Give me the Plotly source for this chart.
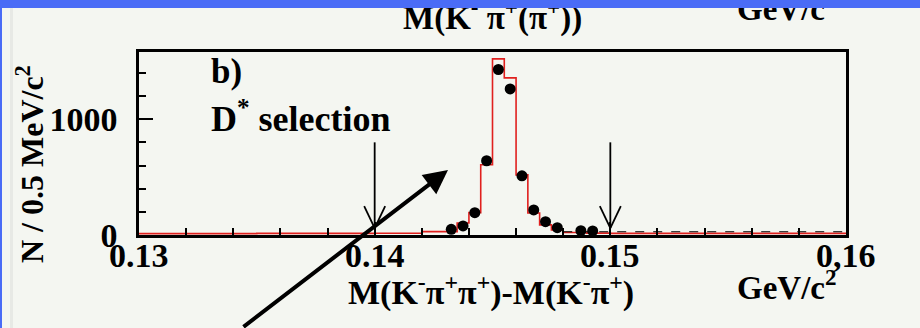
import plotly.graph_objects as go

# ---------------- data ----------------
hist_edges = [0.1300, 0.1350, 0.1400, 0.1420, 0.1435, 0.1440, 0.1445, 0.1450,
              0.1455, 0.1460, 0.1465, 0.1470, 0.1475, 0.1480, 0.1490, 0.1500,
              0.1550, 0.1600]
hist_counts = [12, 14, 15, 29, 104, 193, 606, 1521, 1357, 519, 190, 87, 43,
               22, 16, 14, 14]

data_x = [0.14325, 0.14375, 0.14425, 0.14475, 0.14525, 0.14575, 0.14625,
          0.14675, 0.14725, 0.14775, 0.14875, 0.14925]
data_y = [49, 78, 193, 641, 1429, 1261, 511, 216, 115, 63, 37, 35]

bkg_x = [0.1480, 0.1600]
bkg_y = [28, 28]

cut_values = [0.14, 0.15]
cut_arrow_top = 800
cut_arrow_tip = 60

x_tick_vals = [0.13, 0.14, 0.15, 0.16]
x_tick_text = ["0.13", "0.14", "0.15", "0,16"]
y_tick_vals = [0, 1000]
y_tick_text = ["0", "1000"]

# ---------------- layout geometry ----------------
W, H = 920, 328
L, R, T, B = 139, 74, 52, 93
PW, PH = W - L - R, H - T - B
FONT = "Liberation Serif"
BLUE = "#4a6cf6"
BG = "#f4f6f1"
RED = "#e0201e"


def px(xp):
    return (xp - L) / PW


def py(yp):
    return (H - B - yp) / PH


fig = go.Figure()

fig.add_trace(go.Scatter(
    x=hist_edges, y=hist_counts + [hist_counts[-1]],
    mode="lines", line=dict(color=RED, width=1.6, shape="hv"),
    hoverinfo="skip", showlegend=False))

fig.add_trace(go.Scatter(
    x=bkg_x, y=bkg_y, mode="lines",
    line=dict(color="black", width=1.2, dash="dash"),
    hoverinfo="skip", showlegend=False))

fig.add_trace(go.Scatter(
    x=data_x, y=data_y, mode="markers",
    marker=dict(color="black", size=11),
    showlegend=False))

# cut arrows (stem + V head)
for c in cut_values:
    fig.add_shape(type="line", xref="x", yref="y", x0=c, x1=c,
                  y0=cut_arrow_tip, y1=cut_arrow_top,
                  line=dict(color="black", width=1.8), layer="above")
    for s in (-1, 1):
        fig.add_shape(type="line", xref="x", yref="y",
                      xsizemode="pixel", ysizemode="pixel",
                      xanchor=c, yanchor=cut_arrow_tip,
                      x0=0, y0=0, x1=s * 10.5, y1=22,
                      line=dict(color="black", width=1.8), layer="above")

TICK_SIZE = 34
axis_font = dict(family=FONT, size=TICK_SIZE, color="black", weight="bold")

fig.update_xaxes(
    range=[0.13, 0.16], tickvals=x_tick_vals, showticklabels=False,
    ticks="inside", ticklen=13, tickwidth=1.5, tickcolor="black",
    minor=dict(dtick=0.002, ticks="inside", ticklen=7, tickwidth=1.5,
               tickcolor="black"),
    showline=True, linecolor="black", linewidth=2.5, mirror=True,
    showgrid=False, zeroline=False, automargin=False)
fig.update_yaxes(
    range=[0, 1580], tickvals=y_tick_vals, ticktext=y_tick_text,
    ticks="inside", ticklen=14, tickwidth=1.5, tickcolor="black",
    minor=dict(dtick=200, ticks="inside", ticklen=7, tickwidth=1.5,
               tickcolor="black"),
    showline=True, linecolor="black", linewidth=2.5, mirror=True,
    showgrid=False, zeroline=False, tickfont=axis_font,
    ticklabelstandoff=12, automargin=False)

# x tick labels placed just under the axis
for v, t in zip(x_tick_vals, x_tick_text):
    fig.add_annotation(text=t, xref="x", yref="paper", x=v, y=py(256),
                       xanchor="center", yanchor="middle", showarrow=False,
                       font=axis_font)


def text(t, xp, yp, size=34, xanchor="left", yanchor="middle", angle=0):
    fig.add_annotation(text=t, xref="paper", yref="paper", x=px(xp), y=py(yp),
                       xanchor=xanchor, yanchor=yanchor, showarrow=False,
                       font=dict(family=FONT, size=size, color="black",
                                 weight="bold"),
                       textangle=angle)


text("b)", 209, 71, size=35)
text("D<sup>*</sup> selection", 209, 116, size=36)
text("M(K<sup>-</sup>π<sup>+</sup>π<sup>+</sup>)-M(K<sup>-</sup>π<sup>+</sup>)",
     491, 290, size=34, xanchor="center")
text("GeV/c<sup>2</sup>", 735, 285, size=33)
text("N / 0.5 MeV/c<sup>2</sup>", 30, 164, size=32, xanchor="center", angle=-90)
text("M(K<sup>-</sup> π<sup>+</sup>(π<sup>+</sup>))", 401, 15, size=33)
text("GeV/c", 735, 9, size=33)

# big black pointer arrow
fig.add_annotation(xref="paper", yref="paper", x=px(448), y=py(170),
                   ax=-206, ay=164, axref="pixel", ayref="pixel",
                   showarrow=True, arrowhead=2, arrowsize=1.2, arrowwidth=4,
                   arrowcolor="black", text="")

# blue top bar (drawn over the clipped header text)
fig.add_annotation(text=" ", xref="paper", yref="paper", x=px(0), y=py(0),
                   xanchor="left", yanchor="top", showarrow=False,
                   width=W, height=8, bgcolor=BLUE, borderpad=0,
                   borderwidth=0, font=dict(size=1))

fig.add_shape(type="rect", xref="paper", yref="paper",
              x0=px(0), x1=px(2), y0=py(H), y1=py(0),
              fillcolor=BLUE, line=dict(width=0), layer="above")
fig.add_shape(type="rect", xref="paper", yref="paper",
              x0=px(10), x1=px(13), y0=py(H), y1=py(8),
              fillcolor="#e7e9e5", line=dict(width=0), layer="below")

fig.update_layout(
    width=W, height=H, margin=dict(l=L, r=R, t=T, b=B, autoexpand=False),
    paper_bgcolor=BG, plot_bgcolor=BG, showlegend=False)

fig.write_html("out.html", config={"displayModeBar": False},
               post_script="document.body.style.margin='0px';"
                           "document.body.style.overflow='hidden';")
